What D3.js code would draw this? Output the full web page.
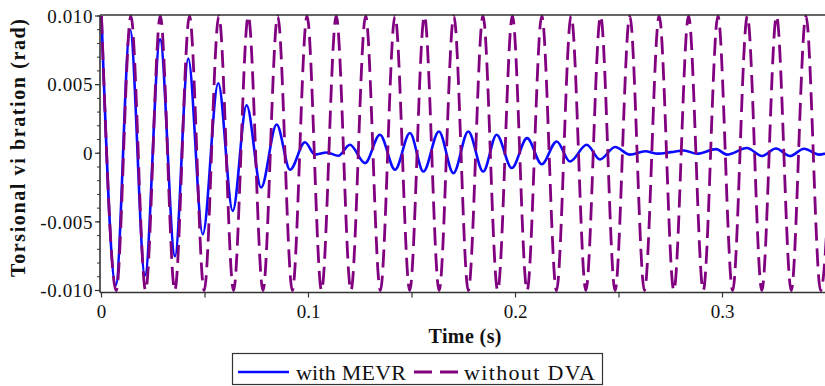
<!DOCTYPE html>
<html><head><meta charset="utf-8">
<script src="https://cdn.jsdelivr.net/npm/d3@7/dist/d3.min.js"></script>
<style>body{margin:0;background:#fff}svg{display:block}</style>
</head><body>
<script>
// Extrema of the "without DVA" response (time in s, angle in rad)
const dvaTimes = [0.0000,0.0071,0.0142,0.0213,0.0284,0.0354,0.0425,0.0496,0.0567,0.0638,
  0.0709,0.0780,0.0851,0.0922,0.0993,0.1063,0.1134,0.1205,0.1276,0.1347,
  0.1418,0.1489,0.1560,0.1631,0.1702,0.1772,0.1843,0.1914,0.1985,0.2056,
  0.2127,0.2198,0.2269,0.2340,0.2411,0.2481,0.2552,0.2623,0.2694,0.2765,
  0.2836,0.2907,0.2978,0.3049,0.3120,0.3190,0.3261,0.3332,0.3403,0.3474,0.3545];
const dvaValues = [0.010,-0.010,0.010,-0.010,0.010,-0.010,0.010,-0.010,0.010,-0.010,
  0.010,-0.010,0.010,-0.010,0.010,-0.010,0.010,-0.010,0.010,-0.010,
  0.010,-0.010,0.010,-0.010,0.010,-0.010,0.010,-0.010,0.010,-0.010,
  0.010,-0.010,0.010,-0.010,0.010,-0.010,0.010,-0.010,0.010,-0.010,
  0.010,-0.010,0.010,-0.010,0.010,-0.010,0.010,-0.010,0.010,-0.010,0.010];
// Extrema of the "with MEVR" response
const mevrTimes = [0.0000,0.0069,0.0138,0.0210,0.0283,0.0355,0.0419,0.0489,0.0564,0.0634,
  0.0701,0.0771,0.0846,0.0911,0.0983,0.1031,0.1088,0.1144,0.1200,0.1273,
  0.1345,0.1418,0.1490,0.1555,0.1630,0.1700,0.1772,0.1844,0.1909,0.1982,
  0.2056,0.2127,0.2199,0.2263,0.2344,0.2408,0.2481,0.2553,0.2626,0.2688,
  0.2751,0.2814,0.2877,0.2969,0.3022,0.3118,0.3191,0.3258,0.3326,0.3394,0.3466,0.3534];
const mevrValues = [0.0100,-0.0096,0.0090,-0.0089,0.0083,-0.0075,0.0069,-0.0059,0.0051,-0.0042,
  0.0035,-0.0025,0.0021,-0.0012,0.0008,-0.0001,0.00006,-0.00018,0.00062,-0.00072,
  0.00135,-0.0012,0.00147,-0.00133,0.00159,-0.00145,0.00159,-0.00133,0.00135,-0.00108,
  0.0011,-0.0008,0.00086,-0.0006,0.00062,-0.00045,0.00045,-0.0001,0.00015,-0.00003,
  0.00008,0.0002,-0.00004,0.0003,-0.0001,0.00038,-0.0002,0.00035,-0.0002,0.00033,-0.0001,0.0002];

const yTicks = [-0.01,-0.005,0,0.005,0.01];
const yTickLabels = ["-0.010","-0.005","0","0.005","0.010"];
const xTicks = [0,0.1,0.2,0.3];
const xTickLabels = ["0","0.1","0.2","0.3"];
const xMinorTicks = [0,0.05,0.1,0.15,0.2,0.25,0.3,0.35];
const seriesNames = ["with MEVR","without DVA"];
const xTitle = "Time (s)";
const yTitle = "Torsional vi bration (rad)";

const FONT = '"Liberation Serif"';
const W = 825, H = 386;
const svg = d3.select("body").append("svg").attr("width", W).attr("height", H);

const x = d3.scaleLinear().domain([0, 0.35]).range([101.5, 826]);
const y = d3.scaleLinear().domain([-0.01, 0.01]).range([290.5, 16]);
const plotLeft = 100, plotTop = 15, plotBottom = 292.5, plotRight = 825;

const axisColor = "#333";

// curves
const mevr = mevrTimes.map((t, i) => [t, mevrValues[i]]);
const dva = dvaTimes.map((t, i) => [t, dvaValues[i]]);
const line = d3.line().x(d => x(d[0])).y(d => y(d[1])).curve(d3.curveMonotoneX);

svg.append("clipPath").attr("id", "clip").append("rect")
  .attr("x", plotLeft).attr("y", 0).attr("width", plotRight - plotLeft).attr("height", plotBottom);

const g = svg.append("g").attr("clip-path", "url(#clip)");
g.append("path").datum(mevr).attr("d", line).attr("fill", "none")
  .attr("stroke", "#0a0aff").attr("stroke-width", 2.6).attr("stroke-linejoin", "round");
g.append("path").datum(dva).attr("d", line).attr("fill", "none")
  .attr("stroke", "#800080").attr("stroke-width", 2.8).attr("stroke-dasharray", "18,8");

// frame
svg.append("line").attr("x1", plotLeft).attr("x2", plotRight).attr("y1", plotTop).attr("y2", plotTop)
  .attr("stroke", axisColor).attr("stroke-width", 1.6);

// y axis
const yAxis = svg.append("g").attr("transform", `translate(${plotLeft},0)`);
yAxis.append("line").attr("x1", 0).attr("x2", 0).attr("y1", plotTop).attr("y2", plotBottom)
  .attr("stroke", axisColor).attr("stroke-width", 1.6);
yAxis.selectAll(".minor").data(y.ticks(20)).join("line")
  .attr("x1", -3).attr("x2", 0).attr("y1", d => y(d)).attr("y2", d => y(d))
  .attr("stroke", axisColor).attr("stroke-width", 1);
yAxis.selectAll(".major").data(yTicks).join("line")
  .attr("x1", -5).attr("x2", 0).attr("y1", d => y(d)).attr("y2", d => y(d))
  .attr("stroke", axisColor).attr("stroke-width", 1.2);
yAxis.selectAll("text").data(yTicks).join("text")
  .attr("x", -7).attr("y", d => y(d)).attr("dy", "0.35em")
  .attr("text-anchor", "end").style("font-family", FONT).attr("font-size", 19)
  .attr("letter-spacing", 0.6).attr("fill", "#111")
  .text((d, i) => yTickLabels[i]);

// x axis
const xAxis = svg.append("g").attr("transform", `translate(0,${plotBottom})`);
xAxis.append("line").attr("x1", plotLeft).attr("x2", plotRight).attr("y1", 0).attr("y2", 0)
  .attr("stroke", axisColor).attr("stroke-width", 1.6);
xAxis.selectAll(".tk").data(xMinorTicks).join("line")
  .attr("x1", d => x(d)).attr("x2", d => x(d)).attr("y1", 0).attr("y2", 5)
  .attr("stroke", axisColor).attr("stroke-width", 1.2);
xAxis.selectAll("text").data(xTicks).join("text")
  .attr("x", d => x(d)).attr("y", 25)
  .attr("text-anchor", "middle").style("font-family", FONT).attr("font-size", 19).attr("fill", "#111")
  .text((d, i) => xTickLabels[i]);

// titles
svg.append("text").attr("x", 465).attr("y", 343).attr("text-anchor", "middle")
  .style("font-family", FONT).attr("font-size", 20).attr("font-weight", "bold").attr("fill", "#111")
  .attr("textLength", 73).attr("lengthAdjust", "spacing").text(xTitle);
svg.append("text").attr("transform", "translate(25,148) rotate(-90)").attr("text-anchor", "middle")
  .style("font-family", FONT).attr("font-size", 20).attr("font-weight", "bold").attr("fill", "#111")
  .attr("textLength", 258).attr("lengthAdjust", "spacing").text(yTitle);

// legend
const lg = svg.append("g");
lg.append("rect").attr("x", 232.5).attr("y", 353.5).attr("width", 370).attr("height", 31)
  .attr("fill", "#fff").attr("stroke", "#333").attr("stroke-width", 1.2);
lg.append("line").attr("x1", 238).attr("x2", 289).attr("y1", 372).attr("y2", 372)
  .attr("stroke", "#0a0aff").attr("stroke-width", 2.6);
lg.append("text").attr("x", 296).attr("y", 379.5).style("font-family", FONT).attr("font-size", 22)
  .attr("textLength", 110).attr("lengthAdjust", "spacing").attr("fill", "#111")
  .text(seriesNames[0]);
lg.append("line").attr("x1", 414).attr("x2", 458).attr("y1", 372).attr("y2", 372)
  .attr("stroke", "#800080").attr("stroke-width", 2.8).attr("stroke-dasharray", "18,8");
lg.append("text").attr("x", 464).attr("y", 379.5).style("font-family", FONT).attr("font-size", 22)
  .attr("textLength", 131).attr("lengthAdjust", "spacing").attr("fill", "#111")
  .text(seriesNames[1]);
</script>
</body></html>
